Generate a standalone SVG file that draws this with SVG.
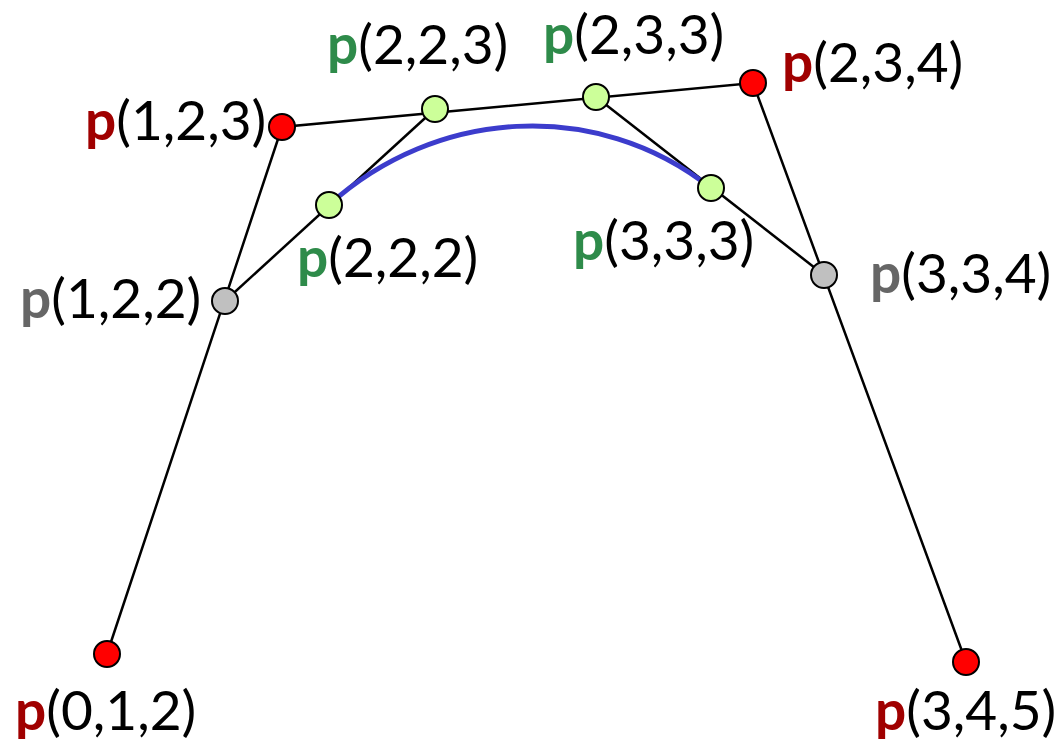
<svg xmlns="http://www.w3.org/2000/svg" width="1059" height="742" viewBox="0 0 1059 742">
<style>
text{font-family:Lato,"Open Sans","Liberation Sans",sans-serif;font-size:55px;fill:#000}
.b{font-weight:bold}
.r{fill:#a00000}
.g{fill:#2e8b4a}
.k{fill:#666666}
.edge{stroke:#000;stroke-width:2.5;fill:none}
.cr{fill:#ff0000;stroke:#000;stroke-width:2}
.cg{fill:#ccff99;stroke:#000;stroke-width:2}
.ck{fill:#c0c0c0;stroke:#000;stroke-width:2}
</style>
<rect width="1059" height="742" fill="#fff"/>
<g id="connectors">
<polyline class="edge" points="107,654 282,127 753,83 966,662"/>
<line class="edge" x1="225" y1="301" x2="435" y2="109"/>
<line class="edge" x1="596" y1="97" x2="824" y2="275"/>
<path d="M329,205 C435,109 596,97 711,188" fill="none" stroke="#3c3ccc" stroke-width="5"/>
</g>
<g id="p012"><circle class="cr" cx="107" cy="654" r="13"/><text x="15" y="730"><tspan class="b r">p</tspan>(0,1,2)</text></g>
<g id="p123"><circle class="cr" cx="282" cy="127" r="13"/><text x="85" y="140"><tspan class="b r">p</tspan>(1,2,3)</text></g>
<g id="p234"><circle class="cr" cx="753" cy="83" r="13"/><text x="782" y="82"><tspan class="b r">p</tspan>(2,3,4)</text></g>
<g id="p345"><circle class="cr" cx="966" cy="662" r="13"/><text x="875" y="730"><tspan class="b r">p</tspan>(3,4,5)</text></g>
<g id="p122"><circle class="ck" cx="225" cy="301" r="13"/><text x="20" y="318"><tspan class="b k">p</tspan>(1,2,2)</text></g>
<g id="p334"><circle class="ck" cx="824" cy="275" r="13"/><text x="870" y="293"><tspan class="b k">p</tspan>(3,3,4)</text></g>
<g id="p223"><circle class="cg" cx="435" cy="109" r="13"/><text x="327" y="64"><tspan class="b g">p</tspan>(2,2,3)</text></g>
<g id="p233"><circle class="cg" cx="596" cy="97" r="13"/><text x="543" y="54"><tspan class="b g">p</tspan>(2,3,3)</text></g>
<g id="p222"><circle class="cg" cx="329" cy="205" r="13"/><text x="297" y="277"><tspan class="b g">p</tspan>(2,2,2)</text></g>
<g id="p333"><circle class="cg" cx="711" cy="188" r="13"/><text x="573" y="260"><tspan class="b g">p</tspan>(3,3,3)</text></g>
</svg>
